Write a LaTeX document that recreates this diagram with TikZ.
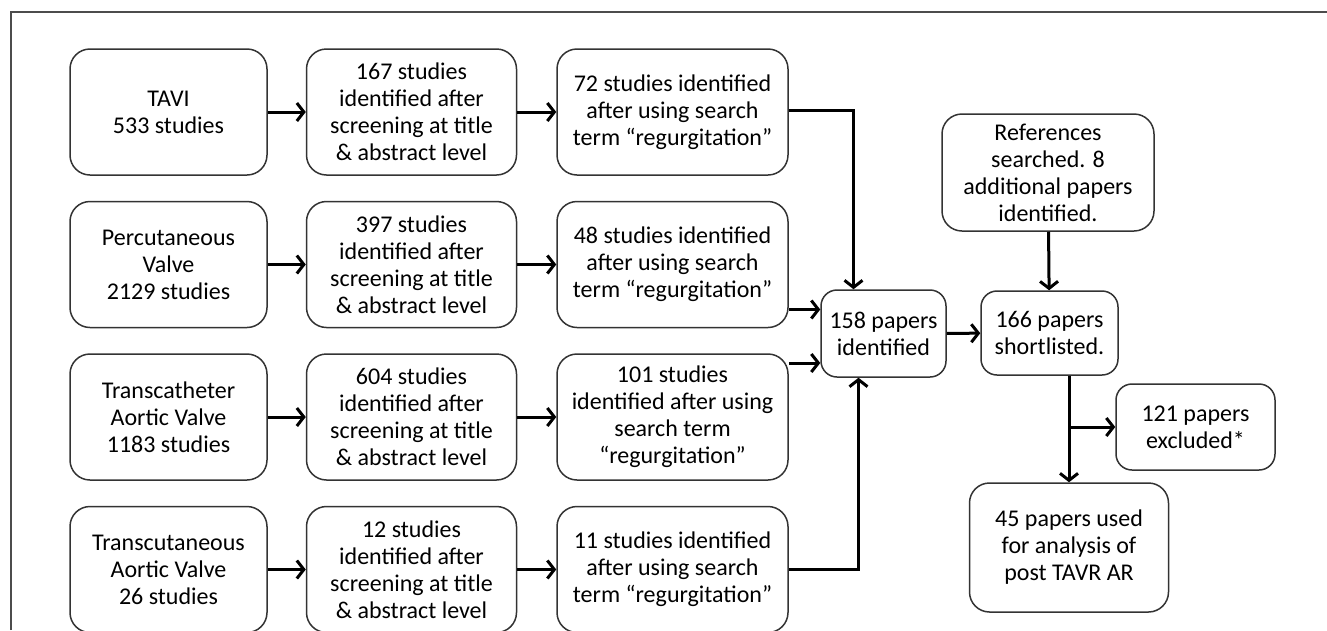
\documentclass[tikz,border=0pt]{standalone}
\usepackage{fontspec}
\setmainfont{Carlito}
\usetikzlibrary{shapes, arrows.meta, positioning, calc}

\begin{document}
\begin{tikzpicture}[x=1pt, y=-1pt, auto,
    font=\fontsize{24}{27}\selectfont,
    box/.style={rectangle, draw=black!80, line width=1.5pt, align=center, rounded corners=20pt, minimum height=126pt, inner sep=4pt},
    line/.style={draw, line width=3pt, -{Straight Barb[length=7pt, width=18pt]}}]

    \useasboundingbox (0,0) rectangle (1327,630);
    \draw [black!70, line width=1.2pt] (11,630) -- (11,12) -- (1327,12);

    % search terms
    \node [box, minimum width=197pt] (tavi) at (168.5,112) {TAVI\\533 studies};
    \node [box, minimum width=197pt, below=25pt of tavi] (perc) {Percutaneous\\Valve\\2129 studies};
    \node [box, minimum width=197pt, below=25pt of perc] (trcath) {Transcatheter\\Aortic Valve\\1183 studies};
    \node [box, minimum width=197pt, below=25pt of trcath] (trcut) {Transcutaneous\\Aortic Valve\\26 studies};

    % screening
    \node [box, minimum width=210pt, right=38pt of tavi] (scrA) {167 studies\\identified after\\screening at title\\\& abstract level};
    \node [box, minimum width=210pt, right=38pt of perc] (scrB) {397 studies\\identified after\\screening at title\\\& abstract level};
    \node [box, minimum width=210pt, right=38pt of trcath] (scrC) {604 studies\\identified after\\screening at title\\\& abstract level};
    \node [box, minimum width=210pt, right=38pt of trcut] (scrD) {12 studies\\identified after\\screening at title\\\& abstract level};

    % regurgitation
    \node [box, minimum width=231pt, right=39pt of scrA] (regA) {72 studies identified\\after using search\\term “regurgitation”};
    \node [box, minimum width=231pt, right=39pt of scrB] (regB) {48 studies identified\\after using search\\term “regurgitation”};
    \node [box, minimum width=231pt, right=39pt of scrC] (regC) {101 studies\\identified after using\\search term\\“regurgitation”};
    \node [box, minimum width=231pt, right=39pt of scrD] (regD) {11 studies identified\\after using search\\term “regurgitation”};

    % papers
    \node [box, minimum width=125pt, minimum height=87pt, rounded corners=16pt] (ident) at (883.5,333.5) {158 papers\\identified};
    \node [box, minimum width=137pt, minimum height=84pt, rounded corners=16pt] (short) at (1049.5,333) {166 papers\\shortlisted.};
    \node [box, minimum width=212pt, minimum height=117pt] (refs) at (1048,172.5) {References\\searched. 8\\additional papers\\identified.};
    \node [box, minimum width=159pt, minimum height=86pt, rounded corners=16pt] (excl) at (1195.5,427) {121 papers\\excluded*};
    \node [box, minimum width=199pt, minimum height=129pt] (used) at (1069,547.5) {45 papers used\\for analysis of\\post TAVR AR};
    \coordinate (split) at (used.north |- excl.west);

    \path [line] (tavi) -- (scrA);
    \path [line] (perc) -- (scrB);
    \path [line] (trcath) -- (scrC);
    \path [line] (trcut) -- (scrD);
    \path [line] (scrA) -- (regA);
    \path [line] (scrB) -- (regB);
    \path [line] (scrC) -- (regC);
    \path [line] (scrD) -- (regD);
    \path [line] ([yshift=2pt]regA.east) -| ([xshift=-30pt]ident.north);
    \path [line] ([yshift=-45pt]regB.east) -- ([yshift=-45pt]regB.east -| ident.west);
    \path [line] ([yshift=54pt]regC.east) -- ([yshift=54pt]regC.east -| ident.west);
    \path [line] (regD) -| ([xshift=-25pt]ident.south);
    \path [line] (ident) -- (short);
    \path [line] (refs) -- (short);
    \path [line] (short.south -| used.north) -- (used.north);
    \path [line] (split) -- (excl.west);

\end{tikzpicture}
\end{document}
